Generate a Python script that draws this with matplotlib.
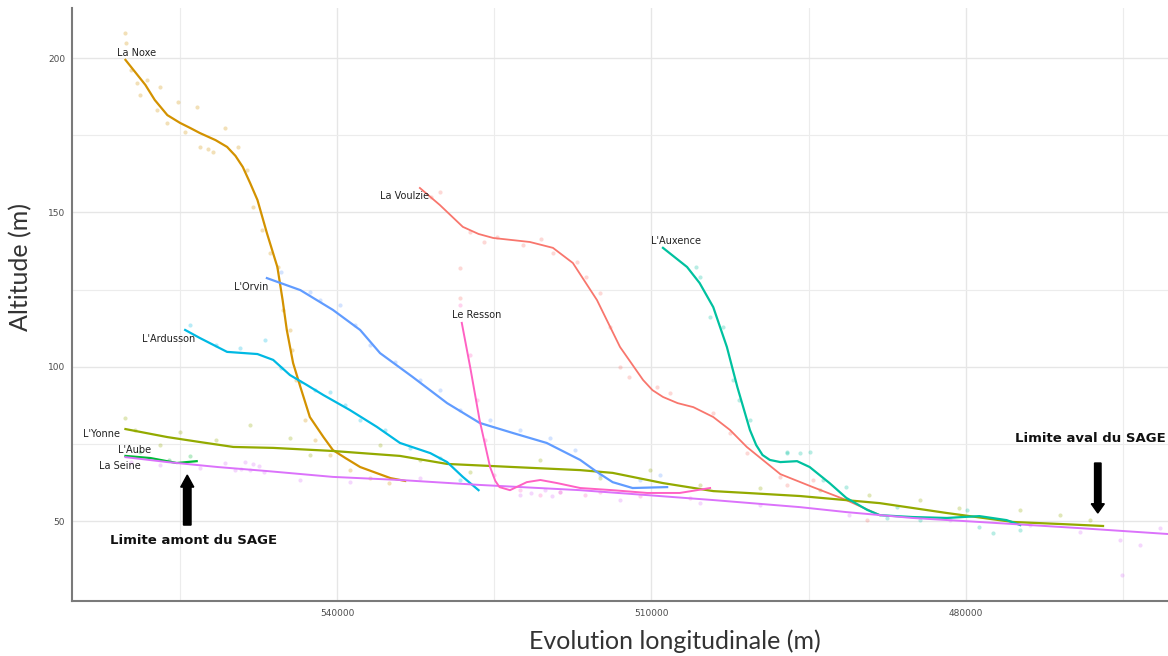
import numpy as np
import matplotlib
matplotlib.use("Agg")
import matplotlib.pyplot as plt
from matplotlib.patches import FancyArrow

# smoothed profiles (x = position along the valley in m, y = altitude in m)
noxe_x = [560200, 558300, 557400, 556200, 555000, 554000, 553100, 551600, 550500, 549700,
          549000, 548300, 547600, 546700, 545700, 545200, 544800, 544200, 543500, 542600,
          541300, 540400, 539200, 537800, 534900, 533500]
noxe_y = [199.4, 191.3, 186.4, 181.5, 179.0, 177.3, 175.7, 173.4, 171.2, 168.3,
          164.7, 159.5, 154.0, 143.3, 132.3, 121.6, 111.9, 101.2, 93.4, 83.7,
          77.2, 73.0, 70.4, 67.5, 63.9, 63.0]

voulzie_x = [532100, 530200, 528000, 526500, 525100, 521600, 519400, 517500, 515200, 513000,
             510800, 509900, 508900, 507500, 506000, 504100, 502500, 500900, 497700, 494600,
             491400, 488200]
voulzie_y = [157.9, 152.4, 145.3, 143.0, 141.7, 140.4, 138.5, 133.6, 121.6, 106.4,
             95.7, 92.4, 90.2, 88.2, 86.9, 83.7, 79.5, 74.0, 65.2, 61.0,
             56.8, 51.9]

auxence_x = [508900, 506600, 505400, 504100, 502800, 501800, 500600, 500000, 499400, 498700,
             497700, 496100, 494900, 493000, 491400, 489400, 488200, 485100, 481800, 480300,
             478700, 476100, 474800]
auxence_y = [138.5, 132.3, 127.1, 119.3, 106.4, 93.4, 79.5, 74.6, 71.4, 69.8,
             69.1, 69.4, 67.5, 62.3, 57.5, 53.6, 51.9, 51.3, 51.0, 51.3,
             51.6, 50.3, 48.7]

orvin_x = [546700, 543500, 540400, 537800, 535900, 532800, 529500, 526400, 523200, 520000,
           516800, 515200, 513700, 511800, 508500]
orvin_y = [128.7, 124.8, 118.4, 111.9, 104.4, 96.7, 88.2, 81.8, 78.5, 75.3,
           69.8, 65.9, 62.6, 60.7, 61.0]

ardusson_x = [554500, 553100, 550500, 547600, 546100, 544500, 542900, 541300, 538800, 536200,
              534000, 531100, 529500, 528000, 526500]
ardusson_y = [111.9, 109.3, 104.8, 104.1, 102.2, 97.3, 94.1, 90.8, 86.0, 80.5,
              75.3, 72.0, 69.1, 64.3, 60.0]

resson_x = [528100, 527300, 526400, 525400, 524900, 524500, 523500, 521900, 520600, 519000,
            516800, 513700, 510400, 507300, 504400]
resson_y = [114.2, 99.9, 82.7, 67.5, 63.0, 61.0, 60.0, 62.6, 63.3, 62.3,
            60.7, 60.0, 59.1, 59.1, 60.7]

yonne_x = [560200, 556200, 553100, 549900, 546100, 540400, 534000, 529500, 523200, 516800,
           513700, 508900, 504100, 500900, 495800, 488200, 481800, 475500, 470700, 466900]
yonne_y = [79.8, 77.2, 75.6, 74.0, 73.7, 72.7, 71.1, 68.5, 67.5, 66.5,
           65.6, 62.3, 59.7, 59.1, 58.1, 55.8, 52.6, 49.7, 49.0, 48.4]

aube_x = [560200, 557800, 555300, 553400]
aube_y = [71.1, 70.4, 68.8, 69.4]

seine_x = [560200, 556200, 551400, 546700, 540400, 534000, 526400, 516800, 510400, 504100,
           495800, 491400, 485100, 478700, 469100, 460700]
seine_y = [70.7, 69.1, 67.5, 66.2, 64.3, 63.3, 61.7, 60.0, 58.4, 56.8,
           54.5, 52.9, 51.0, 49.7, 47.7, 45.8]

# raw survey points (faint dots)
noxe_px = [560200, 560100, 559700, 559100, 558100, 556900, 557200, 556200, 555200, 553400,
           553100, 551800, 550700, 549500, 548600, 548000, 547200, 546400, 545600, 545200,
           544500, 544300, 543900, 543100, 542100, 540700, 538800, 536900, 535000, 554500,
           552300, 558800]
noxe_py = [208.1, 204.9, 196.1, 191.9, 192.9, 190.6, 183.2, 179.0, 185.8, 184.1,
           171.2, 169.6, 177.3, 171.2, 163.7, 151.7, 144.3, 136.8, 132.3, 118.4,
           111.9, 105.4, 95.7, 82.7, 76.2, 71.4, 66.5, 63.9, 62.3, 176.0,
           170.5, 188.0]

voulzie_px = [530200, 528300, 528300, 527300, 524700, 522300, 519400, 517100, 516200, 514900,
              514000, 513000, 512100, 509500, 508200, 504100, 502500, 500900, 497700, 497100,
              494600, 489400, 531000, 526000, 520500]
voulzie_py = [156.6, 132.0, 122.3, 143.6, 142.0, 139.4, 136.8, 133.9, 129.1, 123.9,
              112.9, 99.9, 96.7, 93.4, 91.5, 85.0, 78.5, 72.0, 64.3, 61.7,
              63.3, 50.3, 155.0, 140.5, 141.5]

auxence_px = [505700, 505400, 504400, 503200, 502200, 501600, 500600, 497100, 497100, 495800,
              494900, 493600, 491400, 487500, 486600, 484400, 479900, 477400, 474800, 478700]
auxence_py = [132.3, 129.1, 116.1, 112.9, 95.7, 89.2, 82.7, 72.0, 72.4, 72.0,
              72.4, 63.3, 61.0, 51.0, 54.5, 50.3, 53.6, 46.1, 47.1, 48.1]

orvin_px = [545400, 542600, 541600, 539700, 538300, 536900, 534500, 532100, 530200, 528300,
            525400, 522500, 519700, 517300, 514900, 511100, 509200]
orvin_py = [130.7, 124.2, 121.6, 120.0, 113.5, 107.0, 101.5, 95.7, 92.4, 86.0,
            82.7, 79.5, 76.9, 73.0, 64.9, 63.3, 64.9]

ardusson_px = [554000, 551600, 549300, 546900, 545400, 543500, 542100, 540700, 539200, 537800,
               535400, 533000, 530200, 528300]
ardusson_py = [113.5, 107.0, 106.1, 108.6, 99.6, 95.0, 92.4, 91.8, 87.6, 82.7,
               79.5, 73.7, 70.4, 63.3]

resson_px = [528300, 527300, 526600, 525900, 525000, 522500, 520600, 518700, 516300, 514900,
             511100, 506300]
resson_py = [120.0, 103.8, 89.2, 76.2, 64.9, 60.0, 58.4, 59.4, 58.4, 59.4,
             58.1, 57.5]

yonne_px = [560200, 559300, 556900, 555000, 551600, 548300, 544500, 542600, 535900, 532100,
            527300, 520600, 514900, 510100, 505400, 499600, 493900, 489200, 484400, 480600,
            474800, 471000, 468100]
yonne_py = [83.4, 79.5, 74.6, 78.8, 76.2, 81.1, 76.9, 71.4, 74.6, 69.8,
            65.9, 69.8, 63.9, 66.5, 61.7, 60.7, 60.0, 58.4, 56.8, 54.2,
            53.6, 51.9, 50.3]

aube_px = [558800, 556000, 554000]
aube_py = [72.4, 69.8, 71.1]

seine_px = [559700, 556900, 553100, 550700, 549700, 548800, 548300, 547500, 543500, 538800,
            532100, 522500, 520200, 518700, 513000, 505400, 499600, 491100, 481500, 473900,
            469100, 465300, 465100, 463400, 461500, 549200, 548000, 547000, 521500, 519500]
seine_py = [69.1, 68.1, 67.2, 68.8, 66.5, 69.1, 66.5, 67.8, 63.3, 62.6,
            63.9, 58.4, 60.0, 59.4, 56.8, 55.8, 55.2, 51.9, 50.3, 48.7,
            46.4, 43.8, 32.5, 42.2, 47.7, 67.0, 68.5, 66.0, 59.0, 58.0]

rivers = [
    ("La Voulzie", "#F8766D", voulzie_x, voulzie_y, voulzie_px, voulzie_py, 1.3),
    ("La Noxe", "#D39200", noxe_x, noxe_y, noxe_px, noxe_py, 1.6),
    ("L'Yonne", "#93AA00", yonne_x, yonne_y, yonne_px, yonne_py, 1.6),
    ("L'Aube", "#00BA38", aube_x, aube_y, aube_px, aube_py, 1.6),
    ("L'Auxence", "#00C19F", auxence_x, auxence_y, auxence_px, auxence_py, 1.6),
    ("L'Ardusson", "#00B9E3", ardusson_x, ardusson_y, ardusson_px, ardusson_py, 1.6),
    ("L'Orvin", "#619CFF", orvin_x, orvin_y, orvin_px, orvin_py, 1.6),
    ("La Seine", "#DB72FB", seine_x, seine_y, seine_px, seine_py, 1.4),
    ("Le Resson", "#FF61C3", resson_x, resson_y, resson_px, resson_py, 1.4),
]

# label anchors (centre of the text)
label_names = ["La Noxe", "La Voulzie", "L'Auxence", "L'Orvin", "Le Resson",
               "L'Ardusson", "L'Yonne", "L'Aube", "La Seine"]
label_x = [559100, 533600, 507700, 548200, 526700, 556100, 562500, 559300, 560700]
label_y = [201.6, 155.3, 140.7, 125.8, 116.7, 109.0, 78.2, 73.0, 67.8]

fig = plt.figure(figsize=(11.68, 6.56), dpi=100)
ax = fig.add_axes([72 / 1168, 55 / 656, 1096 / 1168, 593 / 656])

for name, col, lx, ly, px, py, lw in rivers:
    ax.scatter(px, py, s=9, color=col, alpha=0.28, linewidths=0, zorder=2)
    ax.plot(lx, ly, color=col, lw=lw, zorder=3, solid_joinstyle="round")

for name, x, y in zip(label_names, label_x, label_y):
    ax.text(x, y, name, ha="center", va="center", fontsize=7, color="#222222", zorder=4)

# SAGE limits
ax.text(553700, 43.8, "Limite amont du SAGE", ha="center", va="center",
        fontsize=9.5, fontweight="bold", color="#111111")
ax.add_patch(FancyArrow(554300, 48.7, 0, 16.2, width=720, head_width=1250,
                        head_length=3.9, length_includes_head=True,
                        color="black", zorder=5))
ax.text(468100, 76.9, "Limite aval du SAGE", ha="center", va="center",
        fontsize=9.5, fontweight="bold", color="#111111")
ax.add_patch(FancyArrow(467400, 68.8, 0, -16.2, width=620, head_width=1250,
                        head_length=3.0, length_includes_head=True,
                        color="black", zorder=5))

ax.set_xlim(565300, 460700)
ax.set_ylim(24.1, 216.2)
ax.set_xticks([540000, 510000, 480000])
ax.set_xticks([555000, 525000, 495000, 465000], minor=True)
ax.set_yticks([50, 100, 150, 200])
ax.set_yticks([75, 125, 175], minor=True)
ax.tick_params(which="both", length=0, labelsize=6.5, labelcolor="#4d4d4d")
ax.tick_params(axis="x", pad=6)
ax.tick_params(axis="y", pad=5)
ax.grid(which="major", color="#e6e6e6", lw=1.0)
ax.grid(which="minor", color="#ececec", lw=0.8)
ax.set_axisbelow(True)

for s in ["top", "right"]:
    ax.spines[s].set_visible(False)
for s in ["left", "bottom"]:
    ax.spines[s].set_color("#7a7a7a")
    ax.spines[s].set_linewidth(1.5)

fig.text(675 / 1168, 1 - 641 / 656, "Evolution longitudinale (m)", fontsize=18,
         family="Lato", color="#333333", ha="center", va="center")
fig.text(21 / 1168, 1 - 267 / 656, "Altitude (m)", fontsize=18, family="Lato",
         color="#333333", ha="center", va="center", rotation=90)

fig.savefig("out.png", dpi=100, facecolor="white")
